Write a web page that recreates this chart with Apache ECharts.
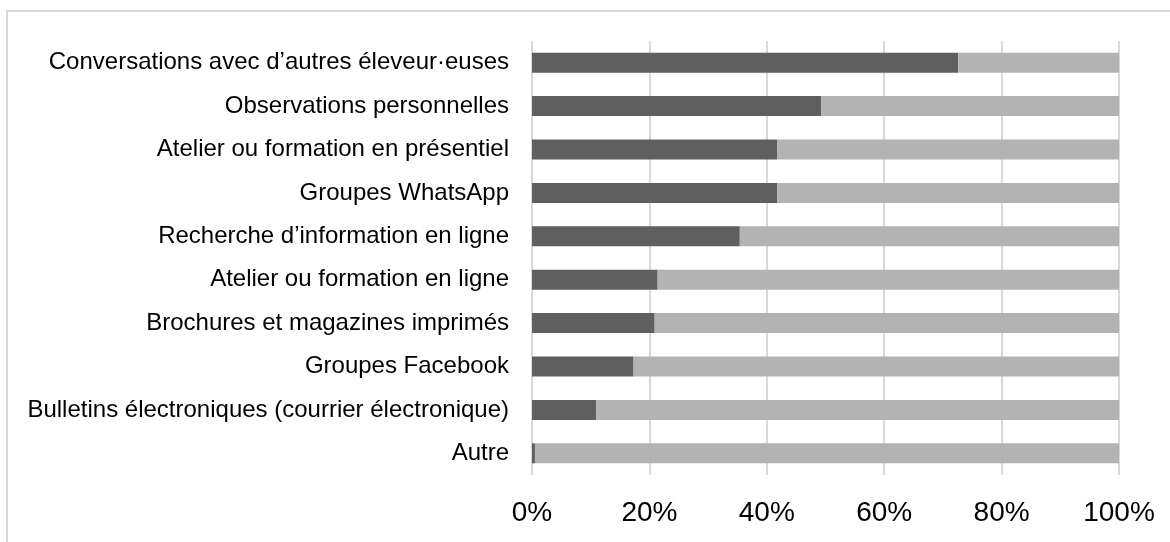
<!DOCTYPE html>
<html>
<head>
<meta charset="utf-8">
<script src="https://cdn.jsdelivr.net/npm/echarts@6/dist/echarts.min.js"></script>
<style>
  html, body { margin: 0; padding: 0; background: #fff; }
  #chart { width: 1170px; height: 542px; }
</style>
</head>
<body>
<div id="chart"></div>
<script>
// catégories, de haut en bas
const categories = [
  'Conversations avec d’autres éleveur·euses',
  'Observations personnelles',
  'Atelier ou formation en présentiel',
  'Groupes WhatsApp',
  'Recherche d’information en ligne',
  'Atelier ou formation en ligne',
  'Brochures et magazines imprimés',
  'Groupes Facebook',
  'Bulletins électroniques (courrier électronique)',
  'Autre'
];
// part "oui" (gris foncé) et le reste (gris clair), en %
const ouiValues = [72.6, 49.3, 41.8, 41.8, 35.4, 21.4, 20.9, 17.3, 10.9, 0.5];
const nonValues = [27.4, 50.7, 58.2, 58.2, 64.6, 78.6, 79.1, 82.7, 89.1, 99.5];
const tickValues = [0, 20, 40, 60, 80, 100];

const chart = echarts.init(document.getElementById('chart'));

const option = {
  animation: false,
  textStyle: { fontFamily: 'Liberation Sans, Arial, sans-serif' },
  graphic: [
    {
      type: 'rect',
      shape: { x: 7, y: 11, width: 1300, height: 700 },
      style: { fill: 'none', stroke: '#d9d9d9', lineWidth: 2 },
      silent: true
    }
  ],
  grid: {
    left: 532,
    right: 51,
    top: 41,
    bottom: 67,
    containLabel: false
  },
  xAxis: {
    type: 'value',
    min: tickValues[0],
    max: tickValues[tickValues.length - 1],
    interval: 20,
    axisLine: { show: false },
    axisTick: { show: false },
    splitLine: {
      show: true,
      lineStyle: { color: '#d9d9d9', width: 2 }
    },
    axisLabel: {
      color: '#000',
      fontSize: 28,
      margin: 24,
      formatter: (v) => v + '%'
    }
  },
  yAxis: {
    type: 'category',
    inverse: true,
    data: categories,
    axisLine: { show: false },
    axisTick: { show: false },
    axisLabel: {
      color: '#000',
      fontSize: 24,
      margin: 23
    }
  },
  series: [
    {
      name: 'oui',
      type: 'bar',
      stack: 'total',
      barWidth: 20,
      itemStyle: { color: '#5f5f5f' },
      data: ouiValues
    },
    {
      name: 'non',
      type: 'bar',
      stack: 'total',
      barWidth: 20,
      itemStyle: { color: '#b3b3b3' },
      data: nonValues
    }
  ]
};

chart.setOption(option);
</script>
</body>
</html>
